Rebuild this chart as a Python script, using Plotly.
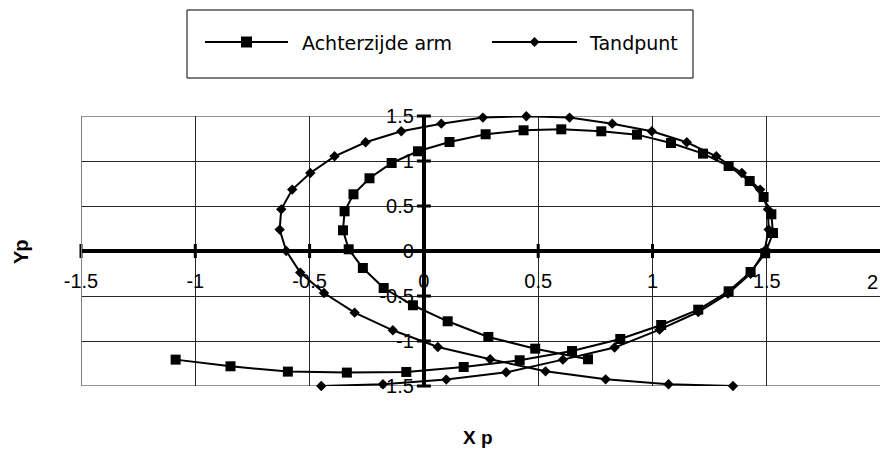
import plotly.graph_objects as go

# Path of the back of the arm (square markers)
arm_x = [-1.086, -0.846, -0.595, -0.337, -0.077, 0.174, 0.419, 0.648, 0.859, 1.038,
         1.200, 1.333, 1.429, 1.493, 1.527, 1.520, 1.486, 1.425, 1.333, 1.221,
         1.081, 0.932, 0.776, 0.601, 0.436, 0.270, 0.112, -0.026, -0.141, -0.238,
         -0.308, -0.347, -0.354, -0.329, -0.267, -0.176, -0.048, 0.104, 0.282, 0.487,
         0.718]
arm_y = [-1.207, -1.281, -1.340, -1.351, -1.344, -1.289, -1.214, -1.111, -0.978, -0.822,
         -0.652, -0.448, -0.233, -0.025, 0.200, 0.408, 0.600, 0.778, 0.944, 1.082,
         1.200, 1.293, 1.330, 1.352, 1.341, 1.297, 1.211, 1.108, 0.978, 0.808,
         0.630, 0.441, 0.230, 0.019, -0.189, -0.411, -0.603, -0.781, -0.955, -1.085,
         -1.203]

# Path of the tooth point (diamond markers)
tand_x = [-0.449, -0.179, 0.098, 0.360, 0.608, 0.834, 1.031, 1.200, 1.330, 1.429,
          1.490, 1.508, 1.505, 1.471, 1.391, 1.279, 1.150, 0.997, 0.824, 0.637,
          0.448, 0.258, 0.076, -0.099, -0.255, -0.391, -0.497, -0.576, -0.624, -0.631,
          -0.602, -0.541, -0.437, -0.303, -0.136, 0.061, 0.290, 0.532, 0.795, 1.070,
          1.352]
tand_y = [-1.500, -1.481, -1.429, -1.348, -1.207, -1.073, -0.874, -0.678, -0.474, -0.252,
          0.000, 0.238, 0.463, 0.682, 0.867, 1.052, 1.208, 1.330, 1.415, 1.482,
          1.497, 1.482, 1.415, 1.330, 1.208, 1.052, 0.867, 0.682, 0.463, 0.238,
          0.000, -0.240, -0.467, -0.685, -0.881, -1.067, -1.203, -1.337, -1.426, -1.481,
          -1.500]

series_names = ["Achterzijde arm", "Tandpunt"]

x_ticks = [-1.5, -1, -0.5, 0, 0.5, 1, 1.5, 2]
x_tick_text = ["-1.5", "-1", "-0.5", "0", "0.5", "1", "1.5", "2"]
y_ticks = [-1.5, -1, -0.5, 0, 0.5, 1, 1.5]
y_tick_text = ["-1.5", "-1", "-0.5", "0", "0.5", "1", "1.5"]

x_title = "X p"
y_title = "Yp"

# ---- page geometry ----
W, H = 880, 451
L, R, T, B = 81, 0, 116, 65
PW, PH = W - L - R, H - T - B
PX_PER_X = 228.6
x_lo = -1.5
x_hi = x_lo + PW / PX_PER_X
y_lo, y_hi = -1.5, 1.5
GRID = "#262626"


def fx(px):
    return (px - L) / PW


def fy(py):
    return (H - B - py) / PH


tick_font = dict(family="Liberation Sans, Arial, sans-serif", size=20, color="black")
title_font = dict(family="Liberation Sans, Arial, sans-serif", size=19, color="black")
legend_font = dict(family="DejaVu Sans, sans-serif", size=19, color="black")

fig = go.Figure()

fig.add_trace(go.Scatter(
    x=arm_x, y=arm_y, mode="lines+markers", name=series_names[0],
    line=dict(color="black", width=2),
    marker=dict(symbol="square", size=10, color="black"),
    cliponaxis=False, showlegend=False,
))
fig.add_trace(go.Scatter(
    x=tand_x, y=tand_y, mode="lines+markers", name=series_names[1],
    line=dict(color="black", width=2),
    marker=dict(symbol="diamond", size=8, color="black"),
    cliponaxis=False, showlegend=False,
))

# cross tick marks on the axes that run through the origin
fig.add_trace(go.Scatter(
    x=x_ticks, y=[0] * len(x_ticks), mode="markers",
    marker=dict(symbol="line-ns", size=10, line=dict(width=3, color="black")),
    hoverinfo="skip", showlegend=False, cliponaxis=False,
))
fig.add_trace(go.Scatter(
    x=[0] * len(y_ticks), y=y_ticks, mode="markers",
    marker=dict(symbol="line-ew", size=10, line=dict(width=3, color="black")),
    hoverinfo="skip", showlegend=False, cliponaxis=False,
))

fig.update_xaxes(
    range=[x_lo, x_hi], tickvals=x_ticks, ticktext=x_tick_text,
    showgrid=True, gridcolor=GRID, gridwidth=1,
    zeroline=True, zerolinecolor="black", zerolinewidth=4,
    showline=False, ticks="", tickfont=tick_font,
    anchor="free", position=(0 - y_lo) / (y_hi - y_lo),
    ticklabelstandoff=16,
)
fig.update_yaxes(
    range=[y_lo, y_hi], tickvals=y_ticks, ticktext=y_tick_text,
    showgrid=True, gridcolor=GRID, gridwidth=1,
    zeroline=True, zerolinecolor="black", zerolinewidth=4,
    showline=False, ticks="", tickfont=tick_font,
    anchor="free", position=(0 - x_lo) / (x_hi - x_lo),
    ticklabelstandoff=10,
)

shapes = []
# top and bottom edges of the plot area (gridlines at the range ends)
for yv in (y_lo, y_hi):
    shapes.append(dict(type="line", xref="x", yref="y", x0=x_lo, x1=x_hi, y0=yv, y1=yv,
                       line=dict(color=GRID, width=1), layer="below"))
# left border of the plot area
shapes.append(dict(type="line", xref="x", yref="y", x0=x_lo, x1=x_lo, y0=y_lo, y1=y_hi,
                   line=dict(color="#808080", width=2), layer="above"))

# legend box
shapes.append(dict(type="rect", xref="paper", yref="paper",
                   x0=fx(187), x1=fx(693), y0=fy(78), y1=fy(10),
                   line=dict(color="black", width=1), fillcolor="white"))

legend_items = [
    (series_names[0], 205, 288, "square", 300),
    (series_names[1], 492, 577, "diamond", 587),
]
leg_y = 42
annotations = []
for name, lx0, lx1, sym, tx in legend_items:
    shapes.append(dict(type="line", xref="paper", yref="paper",
                       x0=fx(lx0), x1=fx(lx1), y0=fy(leg_y), y1=fy(leg_y),
                       line=dict(color="black", width=2)))
    cx = fx((lx0 + lx1) / 2)
    cy = fy(leg_y)
    if sym == "square":
        shapes.append(dict(type="rect", xref="paper", yref="paper",
                           xsizemode="pixel", ysizemode="pixel", xanchor=cx, yanchor=cy,
                           x0=-5.5, x1=5.5, y0=-5.5, y1=5.5,
                           line=dict(width=0), fillcolor="black"))
    else:
        shapes.append(dict(type="path", xref="paper", yref="paper",
                           xsizemode="pixel", ysizemode="pixel", xanchor=cx, yanchor=cy,
                           path="M0,5 L5,0 L0,-5 L-5,0 Z",
                           line=dict(width=0), fillcolor="black"))
    annotations.append(dict(text=name, xref="paper", yref="paper",
                            x=fx(tx), y=fy(leg_y + 1), xanchor="left", yanchor="middle",
                            showarrow=False, font=legend_font))

# label for the last x tick, kept inside the right edge of the page
annotations.append(dict(text=x_tick_text[-1], xref="paper", yref="paper",
                        x=1.0, y=fy(282), xanchor="right", yanchor="middle",
                        showarrow=False, font=tick_font))

# axis titles
annotations.append(dict(text="<b>%s</b>" % x_title, xref="paper", yref="paper",
                        x=fx(478), y=fy(437), xanchor="center", yanchor="middle",
                        showarrow=False, font=title_font))
annotations.append(dict(text="<b>%s</b>" % y_title, xref="paper", yref="paper",
                        x=fx(21), y=fy(252), xanchor="center", yanchor="middle",
                        textangle=-90, showarrow=False, font=dict(title_font, size=20)))

fig.update_layout(
    width=W, height=H,
    margin=dict(l=L, r=R, t=T, b=B),
    paper_bgcolor="white", plot_bgcolor="white",
    showlegend=False,
    shapes=shapes, annotations=annotations,
)

fig.write_html("out.html")
